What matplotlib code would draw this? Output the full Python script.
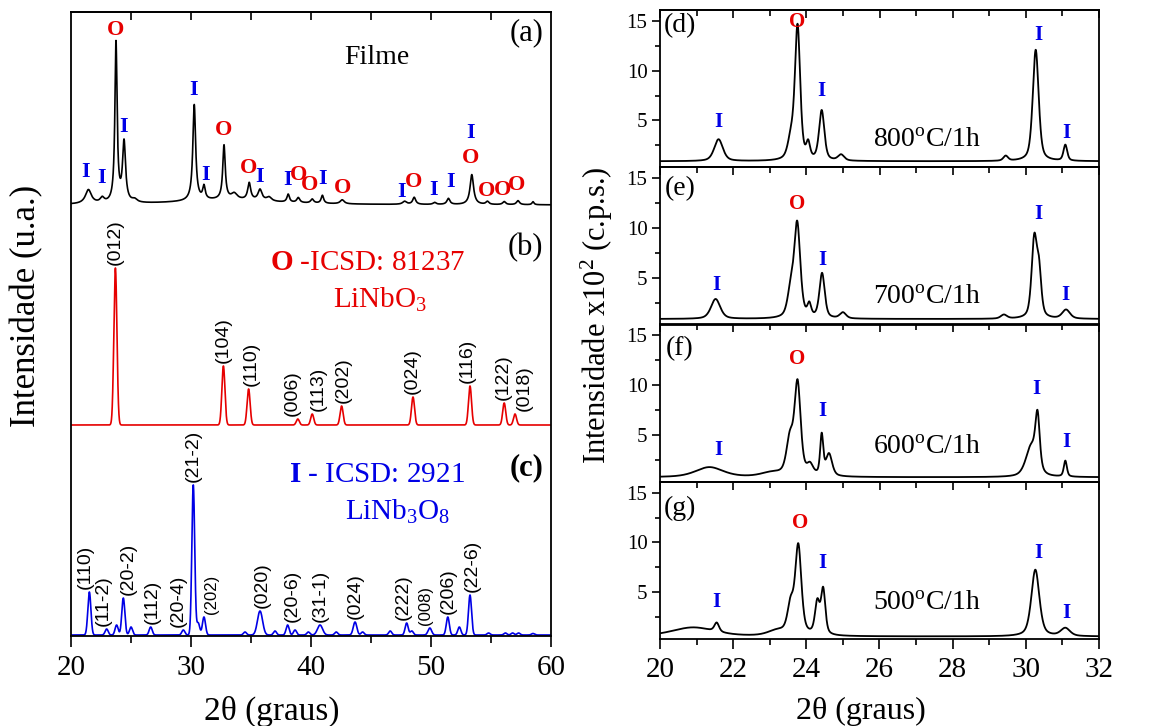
import numpy as np
import matplotlib.pyplot as plt

plt.rcParams['font.family'] = ['Liberation Serif', 'DejaVu Serif']
plt.rcParams['mathtext.fontset'] = 'custom'
plt.rcParams['mathtext.rm'] = 'Liberation Serif'
plt.rcParams['mathtext.it'] = 'Liberation Serif:italic'
plt.rcParams['mathtext.bf'] = 'Liberation Serif:bold'

RED = '#e60000'
BLUE = '#0000e6'

# ---- left panel: film (a) and reference cards (b), (c) ----
# (b) LiNbO3, ICSD 81237
lno_pos = [23.70, 32.70, 34.80, 38.90, 40.10, 42.55, 48.50, 53.25, 56.10, 57.00]
lno_int = [157, 59, 36, 6, 11, 19, 28, 39, 22, 11]
lno_hkl = ['(012)', '(104)', '(110)', '(006)', '(113)', '(202)',
           '(024)', '(116)', '(122)', '(018)']

# (c) LiNb3O8, ICSD 2921
l38_pos = [21.53, 22.97, 24.36, 26.64, 29.36, 30.19, 31.08, 35.75, 38.05,
           40.75, 43.67, 47.97, 49.90, 51.40, 53.25]
l38_int = [43, 6, 37, 8, 5, 150, 18, 24, 10, 10, 13, 12, 7, 18, 40]
l38_fwhm = [0.3, 0.3, 0.3, 0.3, 0.3, 0.28, 0.3, 0.5, 0.3, 0.5, 0.35, 0.3, 0.35, 0.3, 0.3]
l38_hkl = ['(110)', '(11-2)', '(20-2)', '(112)', '(20-4)', '(21-2)', '(202)',
           '(020)', '(20-6)', '(31-1)', '(024)', '(222)', '(008)', '(206)', '(22-6)']
l38_weak_pos = [23.80, 25.00, 30.60, 34.50, 37.00, 38.67, 39.78, 42.10, 44.30,
                46.60, 48.40, 52.36, 54.80, 56.20, 56.80, 57.30, 58.50]
l38_weak_int = [10, 8, 12, 3, 4, 5, 3, 3, 3, 4, 4, 8, 2, 2, 2, 2, 1.5]

# (a) film pattern
film_pos = [21.45, 22.60, 23.75, 24.42, 25.30, 30.27, 31.08, 32.75, 33.60, 34.85,
            35.75, 36.50, 38.10, 38.94, 40.10, 40.95, 42.60, 47.80, 48.60, 50.30,
            51.45, 53.40, 54.70, 56.10, 57.25, 58.50, 33.00]
film_int = [14, 5, 160, 60, 3, 96, 13, 54, 6, 17, 11, 4, 8, 5, 4, 8, 4, 3, 7, 2,
            6, 30, 3, 3, 4, 3, 5]
film_fwhm = [0.6, 0.4, 0.22, 0.3, 0.5, 0.28, 0.25, 0.25, 0.6, 0.3, 0.4, 0.5, 0.25,
             0.3, 0.3, 0.25, 0.4, 0.4, 0.3, 0.3, 0.3, 0.35, 0.3, 0.3, 0.3, 0.2, 10.0]
film_mk_phase = ['I', 'I', 'O', 'I', 'I', 'I', 'O', 'O', 'I', 'I', 'O', 'O', 'I',
                 'O', 'I', 'O', 'I', 'I', 'I', 'O', 'O', 'O', 'O']
film_mk_x = [21.25, 22.56, 23.75, 24.42, 30.25, 31.22, 32.75, 34.83, 35.75, 38.06,
             39.00, 39.92, 40.97, 42.64, 47.56, 48.58, 50.25, 51.64, 53.31, 53.31,
             54.67, 56.00, 57.17]
film_mk_y = [464, 458, 606, 509, 546, 461, 506, 468, 459, 456, 461, 451, 457, 448,
             444, 454, 446, 454, 503, 478, 445, 446, 451]

# ---- right panels: films treated 1 h at each temperature ----
temps = ['800', '700', '600', '500']
tags = ['(d)', '(e)', '(f)', '(g)']
bg = [0.9, 0.85, 0.75, 0.55]
p800_pos = [21.60, 23.58, 23.76, 24.05, 24.42, 24.95, 29.45, 30.27, 31.08]
p800_h = [2.2, 2.0, 13.4, 1.5, 5.0, 0.6, 0.5, 11.2, 1.6]
p800_w = [0.28, 0.2, 0.17, 0.12, 0.17, 0.2, 0.15, 0.19, 0.12]
p700_pos = [21.52, 23.57, 23.75, 24.08, 24.43, 25.00, 29.40, 30.23, 30.36, 31.10]
p700_h = [2.0, 2.5, 9.4, 1.2, 4.5, 0.6, 0.4, 7.8, 4.3, 0.9]
p700_w = [0.3, 0.2, 0.2, 0.12, 0.17, 0.2, 0.2, 0.17, 0.15, 0.25]
p600_pos = [21.35, 23.05, 23.55, 23.76, 24.10, 24.42, 24.62, 30.15, 30.32, 31.08]
p600_h = [1.0, 0.4, 3.5, 9.2, 1.0, 4.0, 2.2, 3.0, 5.2, 1.6]
p600_w = [0.9, 0.7, 0.22, 0.2, 0.2, 0.1, 0.2, 0.35, 0.14, 0.1]
p500_pos = [20.90, 21.55, 23.20, 23.57, 23.78, 24.30, 24.46, 30.26, 31.08]
p500_h = [0.9, 0.9, 0.5, 2.8, 8.9, 3.2, 4.5, 6.7, 0.8]
p500_w = [1.4, 0.15, 0.6, 0.2, 0.2, 0.15, 0.14, 0.26, 0.3]
mk_phase = ['I', 'O', 'I', 'I', 'I']
mk800 = [(21.60, 4.8), (23.75, 14.9), (24.40, 8.0), (30.33, 13.55), (31.10, 3.75)]
mk700 = [(21.55, 4.3), (23.75, 12.4), (24.43, 6.75), (30.33, 11.45), (31.07, 3.3)]
mk600 = [(21.60, 3.5), (23.75, 12.65), (24.43, 7.45), (30.29, 9.6), (31.10, 4.3)]
mk500 = [(21.55, 4.0), (23.83, 11.95), (24.43, 7.95), (30.33, 8.95), (31.10, 2.95)]


def profile(x, pos, h, w, eta):
    y = np.zeros_like(x)
    for p, a, f in zip(pos, h, w):
        g = np.exp(-4 * np.log(2) * ((x - p) / f) ** 2)
        lo = 1.0 / (1 + ((x - p) / (f / 2)) ** 2)
        y += a * (eta * lo + (1 - eta) * g)
    return y


fig = plt.figure(figsize=(11.68, 7.26), dpi=100)

# left panel
ax = fig.add_axes([71 / 1168, 1 - 636 / 726, 480 / 1168, 624 / 726])
x = np.linspace(20, 60, 8001)
off_a, off_b, off_c = 431, 211, 1

y_c = off_c + profile(x, l38_pos + l38_weak_pos, l38_int + l38_weak_int,
                      l38_fwhm + [0.3] * len(l38_weak_pos), 0.0)
y_b = off_b + profile(x, lno_pos, lno_int, [0.3] * len(lno_pos), 0.0)
y_a = off_a + profile(x, film_pos, film_int, film_fwhm, 1.0)
ax.plot(x, y_c, color=BLUE, lw=1.2)
ax.plot(x, y_b, color=RED, lw=1.2)
ax.plot(x, y_a, color='black', lw=1.2)

lno_dx = [0, 0, 0.25, -0.5, 0.5, 0.1, -0.1, -0.25, -0.1, 0.8]
for p, h, lab, dx in zip(lno_pos, lno_int, lno_hkl, lno_dx):
    ax.text(p + dx, off_b + h + 3, lab, rotation=90, ha='center', va='bottom',
            fontsize=14, family='Liberation Sans')
l38_dx = [-0.36, -0.3, 0.4, 0.1, -0.45, 0, 0.67, 0.15, 0.35, 0, 0, -0.3, -0.4, 0, 0.15]
for p, h, lab, dx in zip(l38_pos, l38_int, l38_hkl, l38_dx):
    small = lab in ('(202)', '(008)')
    ax.text(p + dx, off_c + h + 3, lab, rotation=90, ha='center', va='bottom',
            fontsize=12 if small else 14, family='Liberation Sans')

for ph, mx, my in zip(film_mk_phase, film_mk_x, film_mk_y):
    ax.text(mx, my, ph, color=RED if ph == 'O' else BLUE, fontsize=16,
            fontweight='bold', ha='center', va='center')

ax.text(45.5, 579, 'Filme', fontsize=20, ha='center', va='center')
ax.text(58.0, 603, '(a)', fontsize=22, ha='center', va='center')
ax.text(57.83, 388, '(b)', fontsize=22, ha='center', va='center')
ax.text(58.0, 168, '(c)', fontsize=22, ha='center', va='center', fontweight='bold')
ax.text(44.7, 373, r'$\mathbf{O}$ -ICSD: 81237', color=RED, fontsize=21,
        ha='center', va='center')
ax.text(45.75, 336, r'LiNbO$_3$', color=RED, fontsize=21, ha='center', va='center')
ax.text(45.5, 161, r'$\mathbf{I}$ - ICSD: 2921', color=BLUE, fontsize=21,
        ha='center', va='center')
ax.text(47.2, 124, r'LiNb$_3$O$_8$', color=BLUE, fontsize=21, ha='center', va='center')

ax.set_xlim(20, 60)
ax.set_ylim(0, 624)
ax.set_yticks([])
ax.set_xticks(np.arange(20, 61, 10))
ax.set_xticks(np.arange(25, 60, 10), minor=True)
ax.tick_params(axis='x', which='major', direction='out', length=8, width=1.2,
               labelsize=21, pad=6)
ax.tick_params(axis='x', which='minor', direction='out', length=5, width=1.2)
top = ax.secondary_xaxis('top')
top.set_xticks(np.arange(25, 60, 5))
top.tick_params(direction='in', length=6, width=1.2, labeltop=False)
for s in ax.spines.values():
    s.set_linewidth(1.3)
top.spines['top'].set_linewidth(1.3)

# right panels
xr = np.linspace(20, 32, 2401)
peaks = [(p800_pos, p800_h, p800_w), (p700_pos, p700_h, p700_w),
         (p600_pos, p600_h, p600_w), (p500_pos, p500_h, p500_w)]
marks = [mk800, mk700, mk600, mk500]
ph_h = 629 / 4
for i in range(4):
    top_px = 10 + i * ph_h
    axr = fig.add_axes([660 / 1168, 1 - (top_px + ph_h) / 726, 439 / 1168, ph_h / 726])
    pos, h, w = peaks[i]
    yr = bg[i] + profile(xr, pos, h, w, 0.5)
    axr.plot(xr, yr, color='black', lw=1.3)
    for ph, (mx, my) in zip(mk_phase, marks[i]):
        axr.text(mx, my, ph, color=RED if ph == 'O' else BLUE, fontsize=15,
                 fontweight='bold', ha='center', va='center')
    axr.text(27.3, [3.1, 3.15, 3.8, 4.0][i], temps[i] + r'$^{\rm o}$C/1h',
             fontsize=20, ha='center', va='center')
    axr.text(20.55, [14.5, 14.0, 13.7, 13.45][i], tags[i], fontsize=20,
             ha='center', va='center')
    axr.set_xlim(20, 32)
    axr.set_ylim(0.3, 16.1)
    axr.set_yticks([5, 10, 15])
    axr.set_yticks([2.5, 7.5, 12.5], minor=True)
    axr.tick_params(axis='y', which='major', direction='out', length=6, width=1.2,
                    labelsize=15, pad=3)
    axr.tick_params(axis='y', which='minor', direction='out', length=3.5, width=1.2)
    axr.set_xticks(np.arange(20, 33, 2))
    axr.set_xticks(np.arange(21, 32, 2), minor=True)
    if i == 3:
        axr.tick_params(axis='x', which='major', direction='out', length=7, width=1.2,
                        labelsize=21, pad=6)
        axr.tick_params(axis='x', which='minor', direction='out', length=4, width=1.2)
    else:
        axr.tick_params(axis='x', which='both', bottom=False, labelbottom=False)
    t = axr.secondary_xaxis('top')
    t.set_xticks(np.arange(20, 33, 2))
    t.set_xticks(np.arange(21, 32, 2), minor=True)
    t.tick_params(which='major', direction='in', length=6, width=1.2, labeltop=False)
    t.tick_params(which='minor', direction='in', length=4, width=1.2)
    for s in axr.spines.values():
        s.set_linewidth(1.3)
    t.spines['top'].set_linewidth(1.3)

fig.text(27 / 1168, 1 - 306 / 726, 'Intensidade (u.a.)', rotation=90,
         ha='center', va='center', fontsize=25)
fig.text(597 / 1168, 1 - 315 / 726, r'Intensidade x10$^2$ (c.p.s.)', rotation=90,
         ha='center', va='center', fontsize=22)
fig.text(272 / 1168, 1 - 711 / 726, '2θ (graus)', ha='center', va='center', fontsize=24)
fig.text(861 / 1168, 1 - 711 / 726, '2θ (graus)', ha='center', va='center', fontsize=23)

fig.savefig('out.png', dpi=100)
